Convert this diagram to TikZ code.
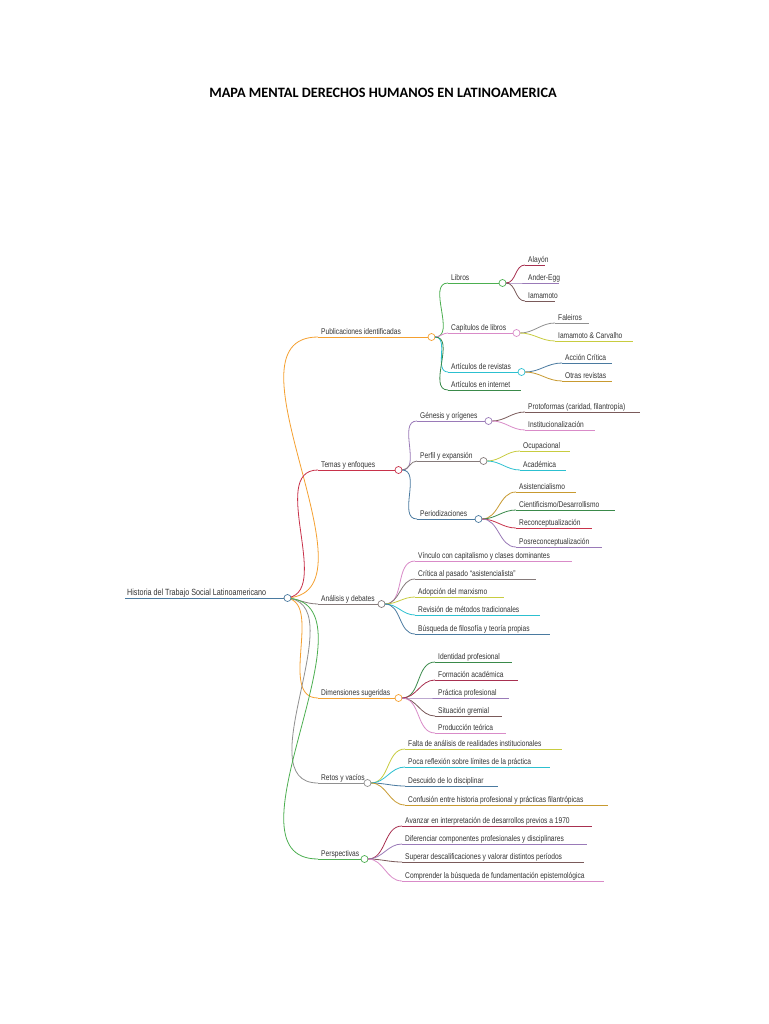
\documentclass[tikz,border=0pt]{standalone}
\usepackage{fontspec}
\setmainfont{Liberation Sans}
\newfontfamily\titlefont{Carlito}
\definecolor{cOr}{HTML}{F5A030}
\definecolor{cRed}{HTML}{C8324A}
\definecolor{cGray}{HTML}{857A7A}
\definecolor{cGreen}{HTML}{4CAF50}
\definecolor{cDGreen}{HTML}{3A8A4A}
\definecolor{cPink}{HTML}{D98BC8}
\definecolor{cCyan}{HTML}{2CC0D0}
\definecolor{cPurple}{HTML}{9A7AB8}
\definecolor{cBlue}{HTML}{4A7AA0}
\definecolor{cYel}{HTML}{C8CC40}
\definecolor{cBrown}{HTML}{7A5A5A}
\definecolor{cDRed}{HTML}{A83050}
\definecolor{cLGray}{HTML}{909090}
\definecolor{cGold}{HTML}{C89A30}
\definecolor{txt}{HTML}{333333}
\usetikzlibrary{calc}
\newcommand\br[7]{%
  \coordinate (#2) at (#3,#5);
  \coordinate (#2-e) at (#4,#5);
  \draw[conn,#6] (#1-e) to[out=0,in=180] (#2);
  \draw[conn,#6] (#2) -- (#2-e);
  \node[lbl,anchor=base west] (#2-t) at (#3+3,#5-3) {\scalebox{0.8}[1]{#7}};
}
\newcommand\knot[2]{\draw[#2,line width=0.7pt,fill=white] (#1-e) ++(3.5,0) circle (3.5); \coordinate (#1-e) at ($(#1-e)+(7,0)$);}
\tikzset{conn/.style={line width=0.8pt},lbl/.style={inner sep=0pt,text=txt,font=\fontsize{8.3}{9}\selectfont}}
\begin{document}
\begin{tikzpicture}[x=1pt,y=-1pt]
\useasboundingbox[fill=white] (0,0) rectangle (768,1024);
\node[font=\titlefont\bfseries\fontsize{14.3}{16}\selectfont] (title) at (383,93) {MAPA MENTAL DERECHOS HUMANOS EN LATINOAMERICA};
% root
\coordinate (root) at (125,598); \coordinate (root-e) at (284,598);
\draw[conn,cBlue] (root) -- (root-e);
\node[lbl,font=\fontsize{9}{10}\selectfont,anchor=base west] (root-t) at (127,595) {\scalebox{0.8}[1]{Historia del Trabajo Social Latinoamericano}};
% main branches
\br{root}{pub}{318}{428}{337}{cOr}{Publicaciones identificadas}
\br{root}{tem}{318}{395}{470}{cRed}{Temas y enfoques}
\br{root}{ana}{318}{378}{604}{cGray}{Análisis y debates}
\br{root}{dim}{318}{395}{698}{cOr}{Dimensiones sugeridas}
\br{root}{ret}{318}{364}{783}{cLGray}{Retos y vacíos}
\br{root}{per}{318}{361}{859}{cGreen}{Perspectivas}
\knot{root}{cBlue}
\knot{pub}{cOr}\knot{tem}{cRed}\knot{ana}{cGray}\knot{dim}{cOr}\knot{ret}{cLGray}\knot{per}{cGreen}
% publicaciones
\br{pub}{lib}{448}{499}{283}{cGreen}{Libros}
\br{pub}{cap}{448}{513}{333}{cPink}{Capítulos de libros}
\br{pub}{art}{448}{518}{372}{cCyan}{Artículos de revistas}
\br{pub}{int}{448}{521}{390}{cDGreen}{Artículos en internet}
\knot{lib}{cGreen}\knot{cap}{cPink}\knot{art}{cCyan}
\br{lib}{ala}{525}{545}{265}{cDRed}{Alayón}
\br{lib}{and}{525}{559}{283}{cPurple}{Ander-Egg}
\br{lib}{iam}{525}{555}{301}{cBrown}{Iamamoto}
\br{cap}{fal}{555}{589}{323}{cLGray}{Faleiros}
\br{cap}{iac}{555}{633}{341}{cYel}{Iamamoto \& Carvalho}
\br{art}{acc}{562}{612}{363}{cBlue}{Acción Crítica}
\br{art}{otr}{562}{612}{381}{cGold}{Otras revistas}
% temas
\br{tem}{gen}{417}{485}{421}{cPurple}{Génesis y orígenes}
\br{tem}{pex}{417}{480}{461}{cGray}{Perfil y expansión}
\br{tem}{pdz}{417}{475}{519}{cBlue}{Periodizaciones}
\knot{gen}{cPurple}\knot{pex}{cGray}\knot{pdz}{cBlue}
\br{gen}{pro}{525}{640}{412}{cBrown}{Protoformas (caridad, filantropía)}
\br{gen}{ins}{525}{595}{430}{cPink}{Institucionalización}
\br{pex}{ocu}{520}{570}{451}{cYel}{Ocupacional}
\br{pex}{aca}{520}{566}{470}{cCyan}{Académica}
\br{pdz}{asi}{516}{576}{492}{cGold}{Asistencialismo}
\br{pdz}{cie}{516}{615}{510}{cDGreen}{Cientificismo/Desarrollismo}
\br{pdz}{rec}{516}{592}{528}{cRed}{Reconceptualización}
\br{pdz}{pos}{516}{602}{547}{cPurple}{Posreconceptualización}
% analisis
\br{ana}{a1}{415}{572}{561}{cPink}{Vínculo con capitalismo y clases dominantes}
\br{ana}{a2}{415}{536}{579}{cGray}{Crítica al pasado ``asistencialista''}
\br{ana}{a3}{415}{504}{597}{cYel}{Adopción del marxismo}
\br{ana}{a4}{415}{540}{615}{cCyan}{Revisión de métodos tradicionales}
\br{ana}{a5}{415}{550}{634}{cBlue}{Búsqueda de filosofía y teoría propias}
% dimensiones
\br{dim}{d1}{435}{512}{662}{cDGreen}{Identidad profesional}
\br{dim}{d2}{435}{518}{680}{cDRed}{Formación académica}
\br{dim}{d3}{435}{509}{698}{cPurple}{Práctica profesional}
\br{dim}{d4}{435}{502}{716}{cBrown}{Situación gremial}
\br{dim}{d5}{435}{506}{733}{cPink}{Producción teórica}
% retos
\br{ret}{r1}{405}{562}{749}{cYel}{Falta de análisis de realidades institucionales}
\br{ret}{r2}{405}{550}{767}{cCyan}{Poca reflexión sobre límites de la práctica}
\br{ret}{r3}{405}{498}{786}{cBlue}{Descuido de lo disciplinar}
\br{ret}{r4}{405}{608}{805}{cGold}{Confusión entre historia profesional y prácticas filantrópicas}
% perspectivas
\br{per}{p1}{402}{592}{826}{cDRed}{Avanzar en interpretación de desarrollos previos a 1970}
\br{per}{p2}{402}{587}{844}{cPurple}{Diferenciar componentes profesionales y disciplinares}
\br{per}{p3}{402}{584}{862}{cBrown}{Superar descalificaciones y valorar distintos períodos}
\br{per}{p4}{402}{604}{881}{cPink}{Comprender la búsqueda de fundamentación epistemológica}
\end{tikzpicture}
\end{document}
